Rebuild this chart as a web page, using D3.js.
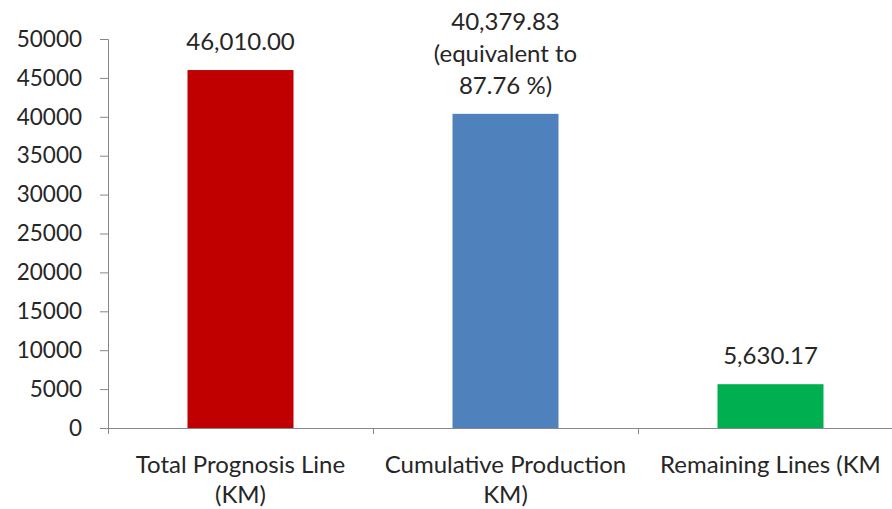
<!DOCTYPE html>
<html>
<head>
<meta charset="utf-8">
<script src="https://cdn.jsdelivr.net/npm/d3@7"></script>
<style>
  body { margin: 0; background: #fff; }
  svg { display: block; font-family: Lato, "Open Sans", sans-serif; }
</style>
</head>
<body>
<div id="chart"></div>
<script>
// Categories (each label split into its wrapped lines) and values
var categories = ["Total Prognosis Line", "Cumulative Production", "Remaining Lines"];
var categoryLines = [["Total Prognosis Line", "(KM)"], ["Cumulative Production", "KM)"], ["Remaining Lines (KM"]];
var values = [46010.00, 40379.83, 5630.17];
var valueLabels = [["46,010.00"], ["40,379.83", "(equivalent to", "87.76 %)"], ["5,630.17"]];
var barColors = ["#C00000", "#4F81BD", "#00B050"];
var yTicks = [0, 5000, 10000, 15000, 20000, 25000, 30000, 35000, 40000, 45000, 50000];

var width = 892, height = 509;
var margin = { top: 39, right: -11, bottom: 81, left: 108 };
var innerW = width - margin.left - margin.right,
    innerH = height - margin.top - margin.bottom;

var svg = d3.select("#chart").append("svg")
    .attr("width", width)
    .attr("height", height);

var g = svg.append("g")
    .attr("transform", "translate(" + margin.left + "," + margin.top + ")");

var x = d3.scaleBand().domain(categories).range([0, innerW])
    .paddingInner(0.6).paddingOuter(0.3);
var y = d3.scaleLinear().domain([0, 50000]).range([innerH, 0]);

var axisColor = "#878787";

// y axis
var yAxis = g.append("g")
    .call(d3.axisLeft(y).tickValues(yTicks).tickSize(8).tickPadding(18).tickFormat(d3.format("d")));
yAxis.select(".domain").attr("stroke", axisColor);
yAxis.selectAll(".tick line").attr("stroke", axisColor);
yAxis.selectAll("text").attr("fill", "#262626").style("font-size", "22.5px")
    .style("font-family", "Lato, sans-serif");

// bars
g.selectAll(".bar")
  .data(values)
  .enter().append("rect")
    .attr("class", "bar")
    .attr("x", function(d, i) { return x(categories[i]); })
    .attr("width", x.bandwidth())
    .attr("y", function(d) { return y(d); })
    .attr("height", function(d) { return innerH - y(d); })
    .attr("fill", function(d, i) { return barColors[i]; });

// x axis line and category separators
var step = x.step();
g.append("line")
    .attr("x1", 0).attr("x2", innerW)
    .attr("y1", innerH + 0.5).attr("y2", innerH + 0.5)
    .attr("stroke", axisColor);
g.selectAll(".xtick")
  .data(d3.range(categories.length))
  .enter().append("line")
    .attr("x1", function(i) { return Math.round(i * step) + 0.5; })
    .attr("x2", function(i) { return Math.round(i * step) + 0.5; })
    .attr("y1", innerH).attr("y2", innerH + 6)
    .attr("stroke", axisColor);

// category labels
categoryLines.forEach(function(lines, i) {
  var cx = x(categories[i]) + x.bandwidth() / 2;
  var t = g.append("text")
    .attr("text-anchor", "middle")
    .attr("fill", "#262626")
    .style("font-size", "24px");
  lines.forEach(function(line, j) {
    t.append("tspan").attr("x", cx).attr("y", innerH + 45 + j * 30).text(line);
  });
});

// value labels above bars
valueLabels.forEach(function(lines, i) {
  var cx = x(categories[i]) + x.bandwidth() / 2;
  var base = y(values[i]) - 20;
  var t = g.append("text")
    .attr("text-anchor", "middle")
    .attr("fill", "#262626")
    .style("font-size", "24px");
  lines.forEach(function(line, j) {
    t.append("tspan").attr("x", cx)
      .attr("y", base - (lines.length - 1 - j) * 32).text(line);
  });
});
</script>
</body>
</html>
